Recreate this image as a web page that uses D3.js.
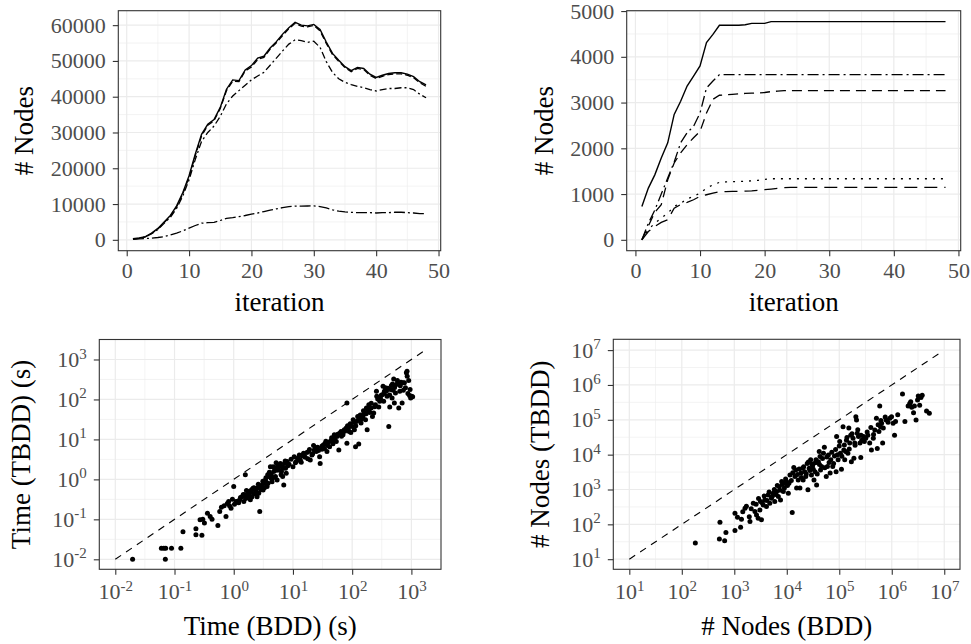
<!DOCTYPE html>
<html lang="en">

<head>
  <meta charset="UTF-8" />
  <title>BDD vs TBDD</title>
  <script src="https://d3js.org/d3.v7.min.js"></script>
  <style>
    body { margin: 0; background: #fff; }
    svg text { font-family: "Liberation Serif", "Times New Roman", Times, "DejaVu Serif", serif; }
  </style>
</head>

<body>
  <svg width="971" height="644"></svg>
</body>

<script>
  // iterations on the x axis of the two top panels
  const iterations = [1, 2, 3, 4, 5, 6, 7, 8, 9, 10, 11, 12, 13, 14, 15, 16, 17, 18, 19, 20, 21, 22, 23, 24,
    25, 26, 27, 28, 29, 30, 31, 32, 33, 34, 35, 36, 37, 38, 39, 40, 41, 42, 43, 44, 45, 46, 47, 48];

  // top left: # nodes per iteration
  const leftSolid = [300, 500, 900, 1900, 3200, 5000, 6800, 9500, 13200, 17900, 24000, 29500, 32300, 33600, 37000, 42100,
    44700, 44500, 47500, 48700, 50800, 51300, 53600, 55400, 57500, 59300, 60800, 60000, 59800, 60200, 58800, 55300,
    52100, 50200, 48400, 47300, 48200, 47900, 46300, 45400, 46000, 46500, 46700, 46700, 46300, 45600, 44200, 43300];
  const leftDashed = [200, 400, 800, 1800, 3000, 4800, 6600, 9200, 12900, 17500, 23600, 29000, 32000, 33300, 36700, 41700,
    44300, 44200, 47200, 48300, 50400, 51000, 53300, 55100, 57100, 59000, 60500, 59700, 59500, 59900, 58400, 54900,
    51800, 49900, 48100, 47000, 47900, 47600, 46000, 45100, 45700, 46200, 46400, 46400, 46000, 45300, 43900, 42900];
  const leftDotDash = [200, 400, 800, 1700, 2900, 4600, 6300, 8800, 12300, 16800, 22500, 27500, 30000, 31800, 34500, 38000,
    40200, 41700, 43200, 44700, 45800, 46800, 48800, 50800, 52800, 54700, 55900, 55700, 55200, 55500, 53800, 49800,
    46800, 45000, 44000, 43400, 42900, 42500, 42000, 41600, 42000, 42300, 42300, 42500, 42500, 42000, 40700, 39700];
  const leftTwoDash = [200, 250, 350, 470, 650, 900, 1350, 1900, 2500, 3250, 4000, 4650, 4800, 4900, 5400, 6000,
    6200, 6500, 6800, 7200, 7500, 7900, 8300, 8650, 9000, 9300, 9400, 9400, 9450, 9500, 9300, 8900,
    8400, 8000, 7800, 7700, 7600, 7600, 7600, 7500, 7600, 7600, 7700, 7700, 7600, 7500, 7300, 7300];

  // top right: # nodes per iteration
  const rightSolid = [730, 1130, 1420, 1790, 2120, 2740, 3030, 3360, 3580, 3800, 4310, 4490, 4690, 4690, 4690, 4690,
    4700, 4730, 4730, 4730, 4770, 4770, 4770, 4770, 4770, 4770, 4770, 4770, 4770, 4770, 4770, 4770,
    4770, 4770, 4770, 4770, 4770, 4770, 4770, 4770, 4770, 4770, 4770, 4770, 4770, 4770, 4770, 4770];
  const rightDotDash = [0, 360, 650, 1000, 1350, 1700, 2120, 2340, 2480, 2770, 3320, 3470, 3610, 3610, 3610, 3610,
    3610, 3610, 3610, 3610, 3610, 3610, 3610, 3610, 3610, 3610, 3610, 3610, 3610, 3610, 3610, 3610,
    3610, 3610, 3610, 3610, 3610, 3610, 3610, 3610, 3610, 3610, 3610, 3610, 3610, 3610, 3610, 3610];
  const rightDashed = [0, 300, 600, 770, 1310, 1680, 1900, 2080, 2230, 2370, 2770, 3070, 3160, 3170, 3180, 3190,
    3200, 3205, 3210, 3220, 3240, 3250, 3260, 3260, 3260, 3260, 3260, 3260, 3260, 3260, 3260, 3260,
    3260, 3260, 3260, 3260, 3260, 3260, 3260, 3260, 3260, 3260, 3260, 3260, 3260, 3260, 3260, 3260];
  const rightDotted = [0, 220, 365, 475, 580, 730, 800, 890, 950, 1020, 1130, 1200, 1255, 1265, 1270, 1275,
    1280, 1290, 1300, 1320, 1335, 1335, 1335, 1335, 1335, 1335, 1335, 1335, 1335, 1335, 1335, 1335,
    1335, 1335, 1335, 1335, 1335, 1335, 1335, 1335, 1335, 1335, 1335, 1335, 1335, 1335, 1335, 1335];
  const rightLongDash = [0, 180, 290, 380, 440, 690, 770, 820, 875, 950, 985, 1020, 1050, 1055, 1060, 1060,
    1065, 1070, 1080, 1095, 1110, 1125, 1140, 1145, 1145, 1145, 1145, 1145, 1145, 1145, 1145, 1145,
    1145, 1145, 1145, 1145, 1145, 1145, 1145, 1145, 1145, 1145, 1145, 1145, 1145, 1145, 1145, 1145];

  // bottom left: runtime in seconds, BDD vs TBDD (same order in both arrays)
  const timeBdd = [0.0196, 0.060, 0.066, 0.071, 0.089, 0.128, 0.070, 0.139, 0.23, 0.23, 0.29, 0.27, 0.30, 0.32, 0.36, 0.43,
    0.40, 0.54, 0.58, 0.69, 0.74, 0.82, 0.90, 1.0, 1.03, 1.14, 1.21, 1.26, 1.38, 1.48, 1.53, 1.68,
    1.79, 1.64, 1.91, 2.04, 2.18, 2.32, 2.48, 2.64, 2.82, 3.01, 2.75, 3.21, 3.43, 3.66, 3.90, 4.16,
    4.44, 4.74, 5.06, 5.40, 5.76, 6.14, 6.55, 7.0, 7.2, 7.7, 7.96, 1.57, 2.32, 2.48, 1.91, 2.12,
    3.13, 3.56, 3.75, 4.06, 4.28, 4.62, 4.93, 5.3, 5.5, 6.0, 6.4, 6.7, 7.5, 8.2,
    10, 10.5, 11.4, 12.0, 12.8, 13.3, 14.2, 15.1, 16.1, 17.2, 18.4, 19.6, 20.9, 22.3, 22.9, 24.8,
    26.1, 28.2, 28.8, 30.9, 32.9, 35.1, 37.5, 38.5, 41.6, 43.8, 47.4, 48.5, 49.9, 53.9, 55.2, 59.5,
    61.5, 64.9, 70.0, 73.6, 79.4, 81.5, 83.6, 89.3, 92.7, 100, 104, 109, 114, 118, 124, 129,
    134, 141, 152, 160, 168, 174, 179, 183, 191, 199, 209, 220, 231, 247, 257, 270,
    281, 292, 307, 320, 332, 340, 350, 364, 378, 388, 415, 431, 442, 460, 472, 490,
    503, 516, 538, 559, 588, 612, 636, 668, 697, 723, 762, 794, 823, 845, 874, 931,
    971, 1010, 1050, 950, 81.5,
    0.62, 0.78, 0.95, 0.85, 1.1, 1.3, 1.45, 1.6, 1.75, 1.85, 2.0, 2.2, 2.4, 2.6, 2.9, 3.1,
    3.3, 3.5, 3.8, 4.0, 4.3, 4.6, 5.2, 5.6, 6.3, 6.8, 7.4, 8.6, 9.3, 11, 12.5, 13.8,
    15.5, 17.8, 19, 21.5, 24, 27, 31, 34, 36, 40, 45, 51, 57, 66, 75, 86,
    95, 107, 115, 126, 137, 145, 155, 172, 195, 210, 240, 260, 300, 345, 400, 430,
    480, 520, 580, 650, 730, 850, 900];
  const timeTbdd = [0.010, 0.019, 0.019, 0.019, 0.019, 0.019, 0.010, 0.049, 0.058, 0.041, 0.040, 0.097, 0.10, 0.081, 0.142, 0.10,
    0.117, 0.07, 0.157, 0.22, 0.117, 0.28, 0.19, 0.66, 0.24, 0.28, 0.26, 0.31, 0.37, 0.28, 0.41, 0.37,
    0.45, 0.53, 0.31, 0.37, 0.44, 0.54, 0.60, 0.45, 0.66, 0.72, 0.157, 0.79, 0.96, 0.66, 1.18, 2.07,
    0.87, 1.58, 1.18, 0.96, 1.72, 2.5, 2.07, 0.72, 2.5, 1.42, 2.8, 1.3, 0.45, 0.37, 0.49, 0.60,
    0.54, 0.83, 1.3, 1.38, 1.06, 2.07, 1.9, 1.68, 2.3, 2.2, 1.58, 1.18, 1.9, 2.2,
    2.07, 3.7, 2.8, 3.4, 4.1, 3.04, 3.9, 4.5, 3.6, 4.7, 5.0, 3.04, 4.1, 7.0, 5.4, 5.0,
    6.4, 3.7, 2.5, 5.7, 7.4, 8.0, 5.0, 7.0, 6.6, 9.4, 7.8, 10.6, 13.1, 8.9, 11.8, 5.4,
    14.3, 15.8, 13.1, 17.4, 19.2, 8.0, 22.0, 15.8, 24.8, 21, 31, 17.4, 6.6, 28, 37.7, 7.7,
    34, 25.6, 37.7, 46, 31, 61, 17.4, 55.6, 74, 47, 61, 37.7, 46, 74, 160, 103,
    65, 90, 125, 131, 215, 90, 160, 195, 160, 121, 21, 65, 177, 223, 109, 170,
    327, 82, 146, 236, 250, 61, 160, 270, 82, 261, 261, 195, 463, 510, 140, 125,
    109, 121, 116, 177, 82,
    0.2, 0.25, 0.32, 0.22, 0.28, 0.35, 0.42, 0.33, 0.5, 0.39, 0.55, 0.62, 0.5, 0.75, 0.55, 0.9,
    0.62, 1.1, 0.8, 1.5, 1.3, 1.1, 2.6, 2.1, 1.3, 1.9, 2.9, 2.4, 3.2, 2.6, 3.1, 2.7,
    3.8, 3.3, 5.6, 4.4, 6.2, 5.3, 6.8, 5.9, 9.0, 8.5, 11, 9.6, 13.5, 12, 16, 19,
    15, 27, 22, 30, 41, 33, 52, 44, 58, 80, 66, 120, 105, 140, 190, 130,
    245, 200, 300, 220, 170, 380, 300];

  // bottom right: # nodes, BDD vs TBDD (same order in both arrays)
  const nodesBdd = [181, 533, 520, 655, 693, 1030, 1030, 1320, 1370, 1600, 1930, 1990, 2300, 2470, 2650, 2850,
    3070, 3300, 3150, 3560, 3800, 4100, 4400, 4750, 5100, 5500, 5900, 6400, 6900, 7200, 7600, 8000,
    8600, 9200, 9900, 10700, 11000, 12700, 13600, 14300, 15400, 16500, 17800, 18600, 20000, 20500, 22000, 23000,
    24500, 25300, 26700, 28500, 29500, 31000, 33000, 34500, 36000, 37000, 40000, 41500, 43000, 46000, 50000, 52000,
    56500, 59500, 62000, 67000, 69000, 75000, 81000, 87000, 89000, 95000, 100000, 105000, 110000, 118000, 122000, 127000,
    132000, 137000, 146000, 152000, 158000, 165000, 170000, 183000, 190000, 197000, 207000, 213000, 220000, 232000, 248000, 257000,
    268000, 290000, 320000, 350000, 380000, 410000, 445000, 475000, 510000, 530000, 570000, 590000, 610000, 640000, 670000, 690000,
    780000, 920000, 990000, 1060000, 1130000, 1180000, 1600000, 1780000, 2050000, 2200000, 2400000, 2600000, 2700000, 2900000, 3100000, 3400000,
    3600000, 3800000, 4600000, 5200000,
    1150, 1450, 1700, 2100, 2600, 2900, 3400, 3700, 4200, 4600, 5300, 5800, 6200, 6600, 7400, 8200,
    9000, 9500, 10300, 11500, 12200, 13000, 14800, 16000, 17200, 19000, 21000, 23500, 25800, 27500, 30000, 32000,
    35000, 38000, 42000, 44000, 48000, 53000, 58000, 64000, 72000, 78000, 85000, 92000, 102000, 112000, 125000, 140000,
    155000, 175000, 200000, 225000, 260000, 300000, 340000, 400000, 450000, 550000, 620000, 750000, 850000, 1300000,
    2300000, 3200000];
  const nodesTbdd = [29, 115, 38, 34, 58, 67, 209, 83, 140, 290, 166, 120, 404, 234, 186, 150,
    260, 135, 450, 362, 500, 325, 700, 404, 560, 780, 450, 870, 630, 1200, 500, 1700,
    870, 1500, 1700, 780, 1500, 219, 4300, 2350, 1100, 1880, 1100, 2950, 4100, 1880, 3250, 2350,
    5600, 980, 4100, 7100, 2600, 4800, 1880, 3250, 7100, 1350, 6300, 12300, 8800, 4600, 11000, 16300,
    2350, 4600, 9800, 2950, 7100, 4600, 9100, 3250, 33000, 7100, 17800, 11000, 3800, 63000, 13500, 7100,
    12300, 26000, 11000, 58000, 21500, 36000, 6300, 29500, 7900, 21500, 123000, 98000, 41000, 33000, 21500, 8300,
    26000, 33000, 29500, 36000, 21500, 13500, 29500, 51000, 110000, 15000, 46000, 250000, 63000, 79000, 21500, 58000,
    98000, 110000, 123000, 79000, 36000, 89000, 550000, 89000, 250000, 295000, 230000, 160000, 250000, 98000, 370000, 260000,
    440000, 510000, 180000, 155000,
    160, 230, 330, 280, 380, 550, 420, 650, 480, 850, 640, 1000, 720, 1300, 950, 1400,
    1100, 2000, 1300, 2600, 1800, 3000, 3600, 2700, 3900, 2200, 4500, 2800, 6200, 3500, 5400, 3800,
    5900, 2800, 5200, 3600, 7800, 4200, 8500, 6000, 11800, 5600, 14000, 10000, 24000, 9000, 19000, 31000,
    14500, 40000, 18500, 52000, 36000, 24000, 45000, 60000, 38000, 72000, 95000, 120000, 85000, 140000,
    330000, 480000];

  // dashed y = x reference lines
  const timeDiagonal = [0.01, 1840];
  const nodesDiagonal = [10, 8900000];

  const svg = d3.select('svg');
  const grid = '#ebebeb';
  const ink = '#333333';
  const serif = '"Liberation Serif", "Times New Roman", Times, "DejaVu Serif", serif';

  // draw one ggplot-like panel: grid, axes, border, titles
  function panel(box, xScale, yScale, opt) {
    const g = svg.append('g');
    // minor grid
    g.selectAll('.gxm').data(opt.xMinor).join('line')
      .attr('x1', d => xScale(d)).attr('x2', d => xScale(d))
      .attr('y1', box.y0).attr('y2', box.y1)
      .attr('stroke', grid).attr('stroke-width', 0.6);
    g.selectAll('.gym').data(opt.yMinor).join('line')
      .attr('y1', d => yScale(d)).attr('y2', d => yScale(d))
      .attr('x1', box.x0).attr('x2', box.x1)
      .attr('stroke', grid).attr('stroke-width', 0.6);
    // major grid
    g.selectAll('.gx').data(opt.xTicks).join('line')
      .attr('x1', d => xScale(d)).attr('x2', d => xScale(d))
      .attr('y1', box.y0).attr('y2', box.y1)
      .attr('stroke', grid).attr('stroke-width', 1.2);
    g.selectAll('.gy').data(opt.yTicks).join('line')
      .attr('y1', d => yScale(d)).attr('y2', d => yScale(d))
      .attr('x1', box.x0).attr('x2', box.x1)
      .attr('stroke', grid).attr('stroke-width', 1.2);

    const xAxis = d3.axisBottom(xScale).tickValues(opt.xTicks).tickSize(5.5).tickPadding(opt.log ? 9 : 6)
      .tickFormat(opt.log ? () => '' : d3.format('d'));
    const yAxis = d3.axisLeft(yScale).tickValues(opt.yTicks).tickSize(5.5).tickPadding(7)
      .tickFormat(opt.log ? () => '' : d3.format('d'));

    const gx = svg.append('g').attr('transform', 'translate(0,' + box.y1 + ')').call(xAxis);
    const gy = svg.append('g').attr('transform', 'translate(' + box.x0 + ',0)').call(yAxis);
    [gx, gy].forEach(a => {
      a.attr('font-family', serif);
      a.select('.domain').remove();
      a.selectAll('.tick line').attr('stroke', ink).attr('stroke-width', 1.1);
      a.selectAll('.tick text').attr('fill', '#4d4d4d').attr('font-size', 22)
        .attr('font-family', serif);
      if (opt.log) {
        a.selectAll('.tick text').each(function (d) {
          const t = d3.select(this);
          t.append('tspan').text('10');
          t.append('tspan').attr('dy', -8.5).attr('font-size', 15).text(Math.round(Math.log10(d)));
        });
      }
    });

    // group for the marks
    const marks = svg.append('g');

    // panel border
    svg.append('rect')
      .attr('x', box.x0).attr('y', box.y0)
      .attr('width', box.x1 - box.x0).attr('height', box.y1 - box.y0)
      .attr('fill', 'none').attr('stroke', ink).attr('stroke-width', 1.1);

    svg.append('text')
      .attr('x', (box.x0 + box.x1) / 2).attr('y', opt.xTitleY)
      .attr('text-anchor', 'middle').attr('font-size', 27).attr('fill', '#000')
      .attr('font-family', serif)
      .text(opt.xTitle);
    svg.append('text')
      .attr('transform', 'translate(' + opt.yTitleX + ',' + (box.y0 + box.y1) / 2 + ') rotate(-90)')
      .attr('text-anchor', 'middle').attr('font-size', 27).attr('fill', '#000')
      .attr('font-family', serif)
      .text(opt.yTitle);
    return marks;
  }

  function drawLine(marks, x, y, values, dash, width) {
    const line = d3.line().x((d, i) => x(iterations[i])).y(d => y(d));
    marks.append('path')
      .attr('d', line(values))
      .attr('fill', 'none')
      .attr('stroke', '#000')
      .attr('stroke-width', width)
      .attr('stroke-dasharray', dash);
  }

  // ---- top left ----
  const tlBox = { x0: 118.3, x1: 440.7, y0: 10.7, y1: 250.7 };
  const tlX = d3.scaleLinear().domain([-1.35, 50.35]).range([tlBox.x0, tlBox.x1]);
  const tlY = d3.scaleLinear().domain([-3040, 64040]).range([tlBox.y1, tlBox.y0]);
  const tl = panel(tlBox, tlX, tlY, {
    xTicks: [0, 10, 20, 30, 40, 50], xMinor: [5, 15, 25, 35, 45],
    yTicks: [0, 10000, 20000, 30000, 40000, 50000, 60000],
    yMinor: [5000, 15000, 25000, 35000, 45000, 55000],
    xTitle: 'iteration', yTitle: '# Nodes', xTitleY: 310.5, yTitleX: 32.5
  });
  drawLine(tl, tlX, tlY, leftTwoDash, '11,3,2,3', 1.3);
  drawLine(tl, tlX, tlY, leftDotDash, '7,3,2,3', 1.3);
  drawLine(tl, tlX, tlY, leftDashed, '6,3', 1.3);
  drawLine(tl, tlX, tlY, leftSolid, null, 1.4);

  // ---- top right ----
  const trBox = { x0: 626.7, x1: 960.7, y0: 10.7, y1: 250.7 };
  const trX = d3.scaleLinear().domain([-1.35, 50.35]).range([trBox.x0, trBox.x1]);
  const trY = d3.scaleLinear().domain([-238, 5008]).range([trBox.y1, trBox.y0]);
  const tr = panel(trBox, trX, trY, {
    xTicks: [0, 10, 20, 30, 40, 50], xMinor: [5, 15, 25, 35, 45],
    yTicks: [0, 1000, 2000, 3000, 4000, 5000],
    yMinor: [500, 1500, 2500, 3500, 4500],
    xTitle: 'iteration', yTitle: '# Nodes', xTitleY: 310.5, yTitleX: 552.5
  });
  drawLine(tr, trX, trY, rightLongDash, '13,7', 1.3);
  drawLine(tr, trX, trY, rightDotted, '2,6', 1.3);
  drawLine(tr, trX, trY, rightDashed, '10,6', 1.3);
  drawLine(tr, trX, trY, rightDotDash, '11,4,2,4', 1.3);
  drawLine(tr, trX, trY, rightSolid, null, 1.4);

  // ---- bottom left ----
  const blBox = { x0: 99.3, x1: 441, y0: 339.5, y1: 569.3 };
  const blX = d3.scaleLog().domain([Math.pow(10, -2.27), Math.pow(10, 3.5)]).range([blBox.x0, blBox.x1]);
  const blY = d3.scaleLog().domain([Math.pow(10, -2.25), Math.pow(10, 3.5)]).range([blBox.y1, blBox.y0]);
  const bl = panel(blBox, blX, blY, {
    log: true,
    xTicks: [1e-2, 1e-1, 1e0, 1e1, 1e2, 1e3],
    xMinor: [-1.5, -0.5, 0.5, 1.5, 2.5].map(e => Math.pow(10, e)),
    yTicks: [1e-2, 1e-1, 1e0, 1e1, 1e2, 1e3],
    yMinor: [-1.5, -0.5, 0.5, 1.5, 2.5].map(e => Math.pow(10, e)),
    xTitle: 'Time (BDD) (s)', yTitle: 'Time (TBDD) (s)', xTitleY: 635, yTitleX: 30
  });
  bl.append('path')
    .attr('d', d3.line().x(d => blX(d)).y(d => blY(d))(timeDiagonal))
    .attr('fill', 'none').attr('stroke', '#000').attr('stroke-width', 1.1)
    .attr('stroke-dasharray', '7,6');
  bl.selectAll('circle').data(timeBdd).join('circle')
    .attr('cx', d => blX(d)).attr('cy', (d, i) => blY(timeTbdd[i]))
    .attr('r', 2.5).attr('fill', '#000');

  // ---- bottom right ----
  const brBox = { x0: 613.3, x1: 960, y0: 339.3, y1: 569.3 };
  const brX = d3.scaleLog().domain([Math.pow(10, 0.695), Math.pow(10, 7.3)]).range([brBox.x0, brBox.x1]);
  const brY = d3.scaleLog().domain([Math.pow(10, 0.71), Math.pow(10, 7.31)]).range([brBox.y1, brBox.y0]);
  const br = panel(brBox, brX, brY, {
    log: true,
    xTicks: [1e1, 1e2, 1e3, 1e4, 1e5, 1e6, 1e7],
    xMinor: [1.5, 2.5, 3.5, 4.5, 5.5, 6.5].map(e => Math.pow(10, e)),
    yTicks: [1e1, 1e2, 1e3, 1e4, 1e5, 1e6, 1e7],
    yMinor: [1.5, 2.5, 3.5, 4.5, 5.5, 6.5].map(e => Math.pow(10, e)),
    xTitle: '# Nodes (BDD)', yTitle: '# Nodes (TBDD)', xTitleY: 635, yTitleX: 549
  });
  br.append('path')
    .attr('d', d3.line().x(d => brX(d)).y(d => brY(d))(nodesDiagonal))
    .attr('fill', 'none').attr('stroke', '#000').attr('stroke-width', 1.1)
    .attr('stroke-dasharray', '7,6');
  br.selectAll('circle').data(nodesBdd).join('circle')
    .attr('cx', d => brX(d)).attr('cy', (d, i) => brY(nodesTbdd[i]))
    .attr('r', 2.5).attr('fill', '#000');
</script>

</html>
